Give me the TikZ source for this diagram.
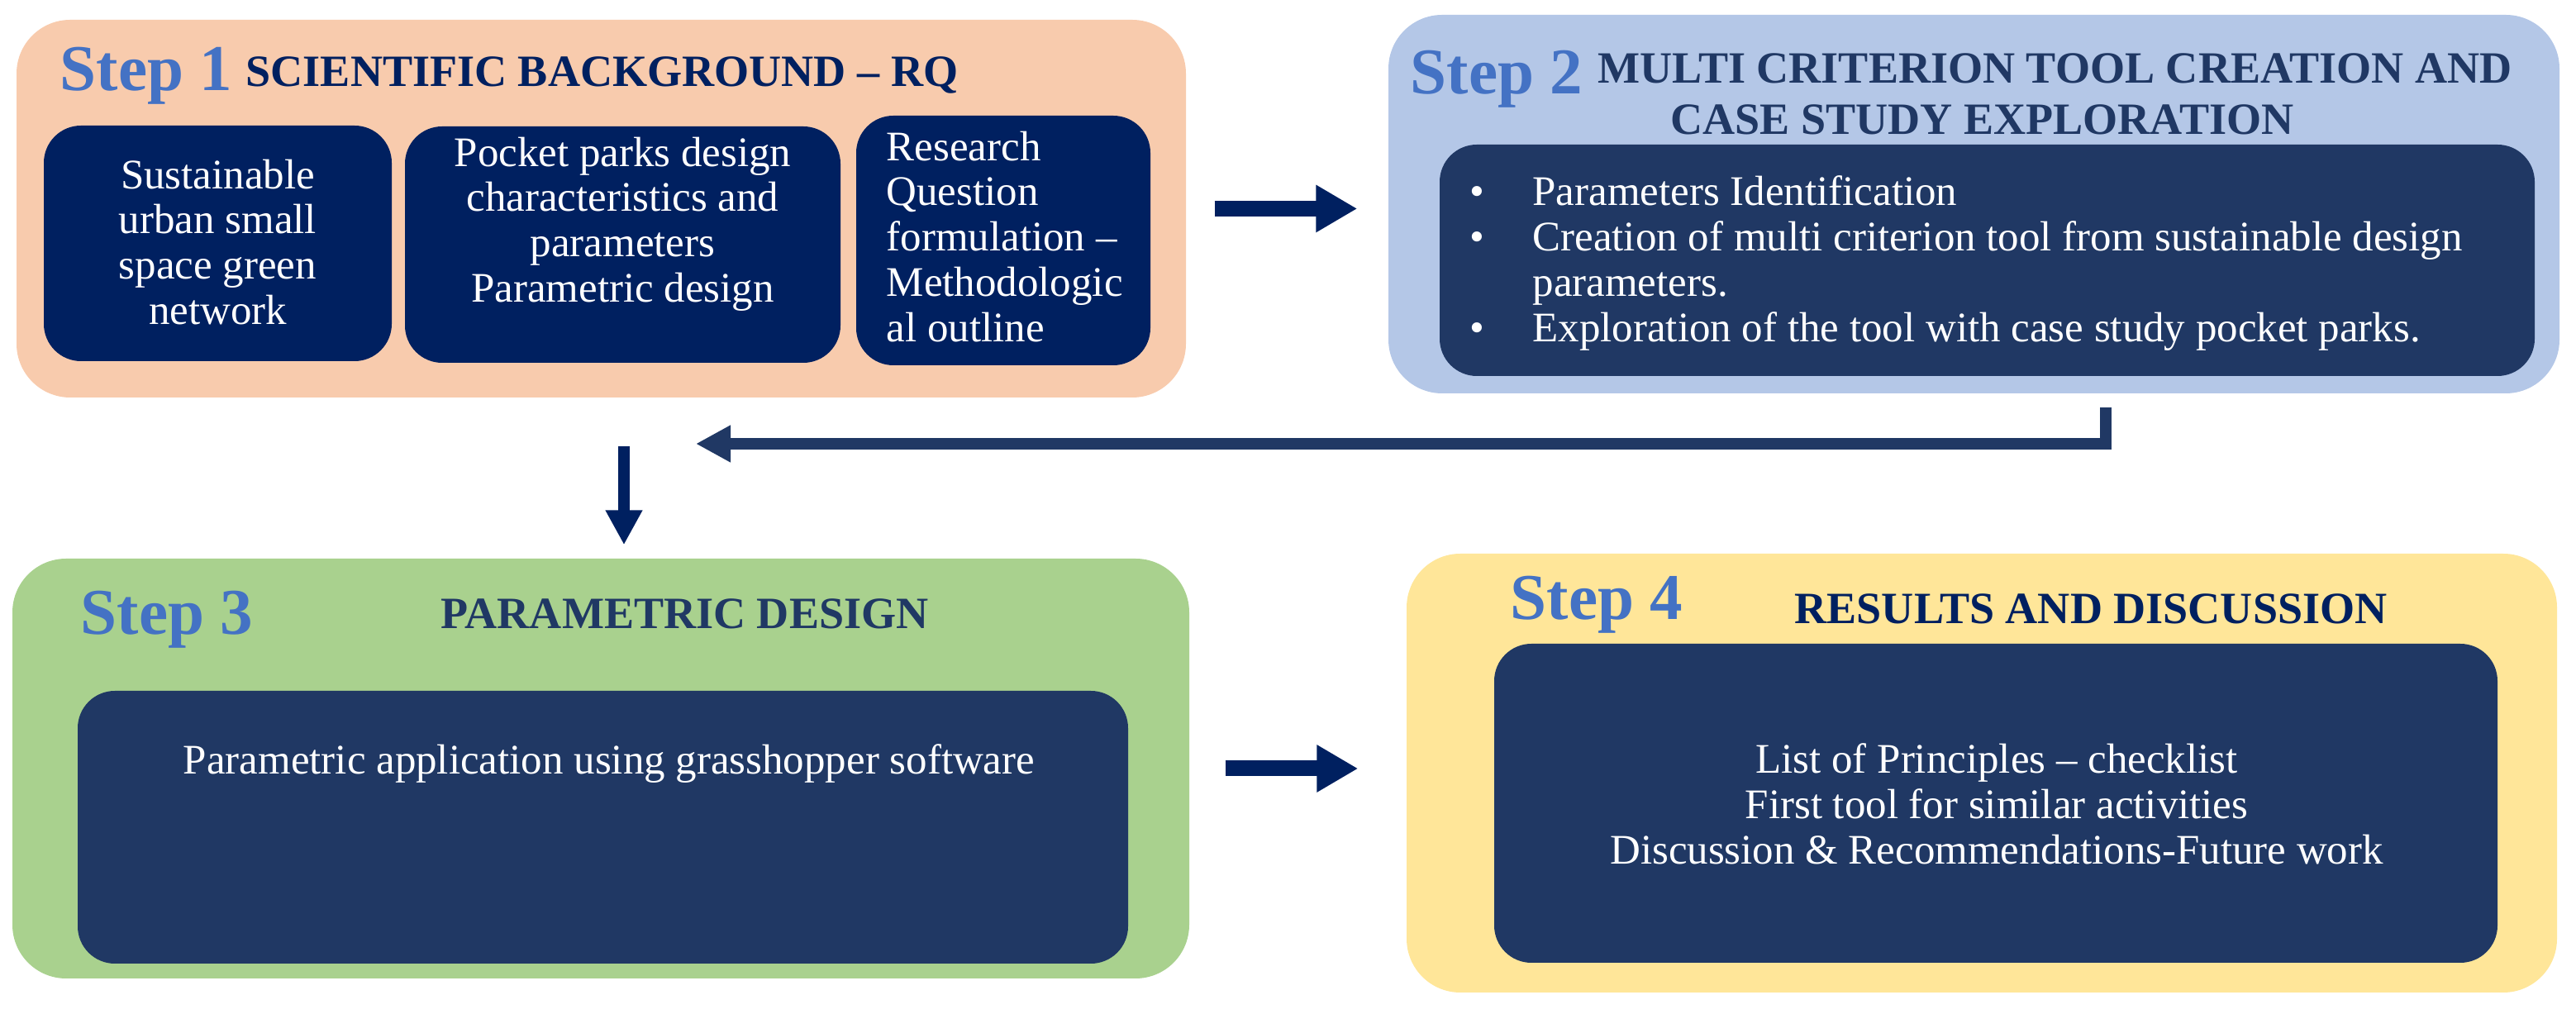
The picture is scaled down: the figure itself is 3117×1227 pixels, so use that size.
\documentclass[tikz,border=0pt]{standalone}
\usepackage{fontspec}
\setmainfont{Liberation Serif}
\usetikzlibrary{arrows.meta}

\definecolor{peach}{HTML}{F8CBAD}
\definecolor{paleblue}{HTML}{B4C7E7}
\definecolor{palegreen}{HTML}{A9D18E}
\definecolor{paleyellow}{HTML}{FFE699}
\definecolor{navy}{HTML}{002060}
\definecolor{darkblue}{HTML}{203864}
\definecolor{stepblue}{HTML}{4472C4}

\newcommand{\bul}{\makebox[21.6pt][l]{\textbullet}}

\begin{document}
\begin{tikzpicture}[x=0.1mm, y=-0.1mm,
    outerbox/.style = {rounded corners=6.5mm, inner sep=0pt},
    innerbox/.style = {fill=darkblue, rounded corners=4.5mm, inner sep=0pt},
    steplbl/.style = {text=stepblue, font=\fontsize{22.5}{24}\selectfont\bfseries, anchor=base west, inner sep=0pt},
    steptitle/.style = {text=navy, font=\fontsize{15.4}{17.6}\selectfont\bfseries, inner sep=0pt},
    body/.style = {text=white, font=\fontsize{14.5}{15.6}\selectfont, inner sep=0pt},
    flow/.style = {navy, line width=1.9mm, -{Triangle[length=5mm, width=5.4mm]}},
    thin flow/.style = {line width=1.4mm, -{Triangle[length=4.2mm, width=4.2mm]}}]
    \useasboundingbox (0,0) rectangle (3117,1227);

    % step 1
    \node[outerbox, fill=peach, minimum width=141.5mm, minimum height=45.7mm] (s1) at (727.5,252.5) {};
    \node[steplbl] (s1lbl) at (72,110) {Step 1};
    \node[steptitle, anchor=base west] (s1title) at (297,105) {SCIENTIFIC BACKGROUND – RQ};
    \node[innerbox, fill=navy, minimum width=42.1mm, minimum height=28.5mm] (s1a) at (263.5,294.5) {};
    \node[innerbox, fill=navy, minimum width=52.7mm, minimum height=28.6mm] (s1b) at (753.5,296) {};
    \node[innerbox, fill=navy, minimum width=35.6mm, minimum height=30.2mm] (s1c) at (1214,291) {};
    \node[body, align=center, anchor=north] (s1atext) at (263.5,192) {Sustainable\\urban small\\space green\\network};
    \node[body, align=center, anchor=north] (s1btext) at (753.5,165) {Pocket parks design\\characteristics and\\parameters\\Parametric design};
    \node[body, align=left, anchor=north west] (s1ctext) at (1072,158) {Research\\Question\\formulation –\\Methodologic\\al outline};

    % step 2
    \node[outerbox, fill=paleblue, minimum width=141.7mm, minimum height=45.8mm] (s2) at (2388.5,247) {};
    \node[steplbl] (s2lbl) at (1706,114) {Step 2};
    \node[steptitle, text=darkblue, align=left, anchor=north west, font=\fontsize{15.4}{17.6}\selectfont\bfseries] (s2title) at (1933,64)
        {MULTI CRITERION TOOL CREATION AND\\\hspace*{25pt}CASE STUDY EXPLORATION};
    \node[innerbox, minimum width=132.5mm, minimum height=28mm] (s2in) at (2404.5,315) {};
    \node[body, align=left, anchor=north west] (s2text) at (1778,212)
        {\bul Parameters Identification\\
         \bul Creation of multi criterion tool from sustainable design\\
         \hspace*{21.6pt}parameters.\\
         \bul Exploration of the tool with case study pocket parks.};

    % step 3
    \node[outerbox, fill=palegreen, minimum width=142.4mm, minimum height=50.8mm] (s3) at (727,930) {};
    \node[steplbl] (s3lbl) at (97,768) {Step 3};
    \node[steptitle, text=darkblue, anchor=base west] (s3title) at (533,761) {PARAMETRIC DESIGN};
    \node[innerbox, minimum width=127.1mm, minimum height=33mm] (s3in) at (729.5,1001) {};
    \node[body, anchor=base] (s3text) at (737,937) {Parametric application using grasshopper software};

    % step 4
    \node[outerbox, fill=paleyellow, minimum width=139.2mm, minimum height=53.1mm] (s4) at (2398,935.5) {};
    \node[steplbl] (s4lbl) at (1827,750) {Step 4};
    \node[steptitle, anchor=base west] (s4title) at (2171,755) {RESULTS AND DISCUSSION};
    \node[innerbox, minimum width=121.4mm, minimum height=38.6mm] (s4in) at (2415,972) {};
    \node[body, align=center, anchor=north] (s4text) at (2416,899)
        {List of Principles – checklist\\First tool for similar activities\\Discussion \& Recommendations-Future work};

    % arrows
    \coordinate (loopend) at (842,537);
    \coordinate (downstart) at (755,540);
    \draw[flow, shorten <=3.4mm, shorten >=3.7mm] (s1.east) -- (s1.east -| s2.west);
    \draw[flow, shorten <=4.3mm, shorten >=5.8mm] (s3.east) -- (s3.east -| s4.west);
    \draw[darkblue, thin flow] ([xshift=15.95mm, yshift=-1.6mm]s2.south) |- (loopend);
    \draw[navy, thin flow, shorten >=1.6mm] (downstart) -- (downstart |- s3.north);
\end{tikzpicture}
\end{document}
